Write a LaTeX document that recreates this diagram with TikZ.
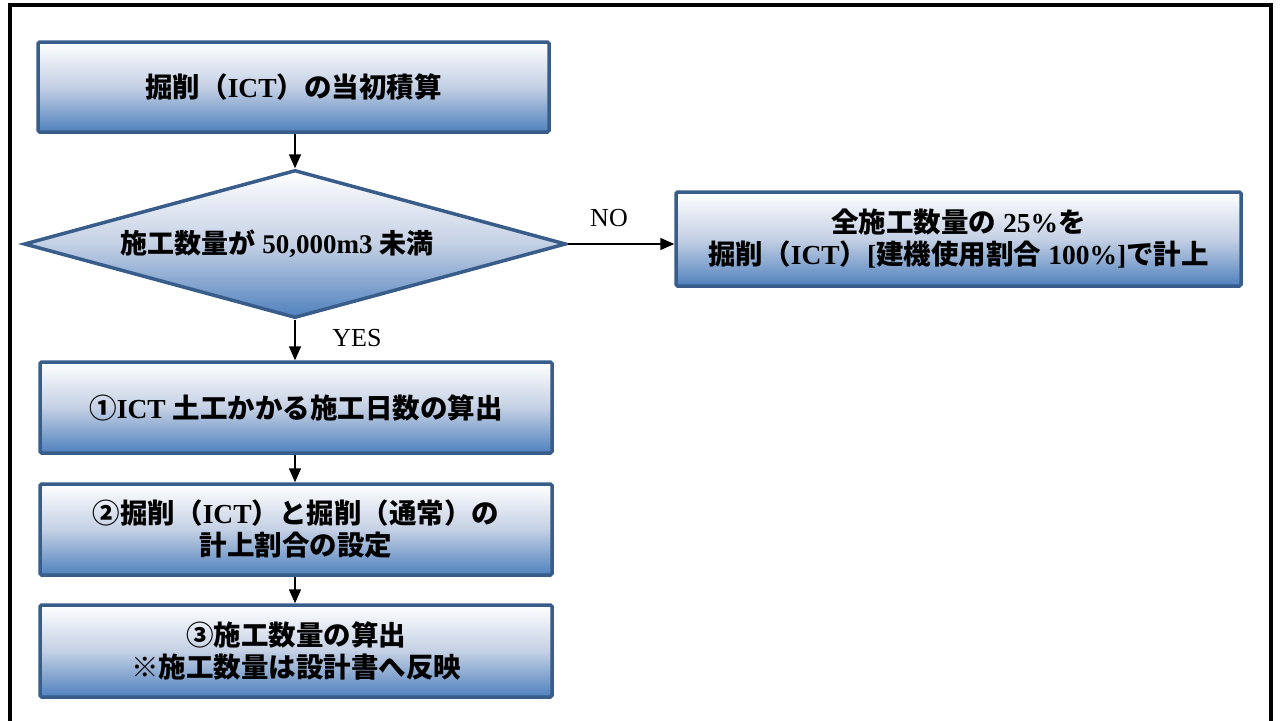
\documentclass[tikz,border=0pt]{standalone}
\usepackage{fontspec}
\setmainfont{Liberation Serif}
\newfontfamily\cjk{Noto Sans CJK JP}
\usetikzlibrary{shapes.geometric,arrows.meta}
\newcommand\J[1]{{\cjk\bfseries #1}}
\definecolor{bord}{RGB}{56,93,138}
\definecolor{bfill}{RGB}{79,129,189}
\definecolor{mfill}{RGB}{196,208,228}
\tikzset{
  fbox/.style={rectangle, draw=bord, line width=3.5pt, rounded corners=1.5pt,
    top color=white, bottom color=bfill, middle color=mfill, align=center,
    font=\bfseries\fontsize{27.5}{32}\selectfont, inner sep=0pt},
  dia/.style={diamond, draw=bord, line width=3.5pt, top color=white, bottom color=bfill,
    middle color=mfill, inner sep=0pt},
  txt/.style={align=center, font=\bfseries\fontsize{27}{32}\selectfont},
  lbl/.style={font=\fontsize{26}{30}\selectfont},
  arr/.style={line width=1.5pt, -{Triangle[length=14pt,width=12pt]}}
}
\begin{document}
\begin{tikzpicture}[x=1pt,y=-1pt]
\useasboundingbox (0,0) rectangle (1281,720);
\draw[line width=4pt] (10,740) -- (10,5) -- (1271,5) -- (1271,740);
\node[fbox, minimum width=511, minimum height=90] (b1) at (293.5,87) {\J{掘削（}ICT\J{）の当初積算}};
\node[dia, minimum width=542, minimum height=148] (d) at (295,244) {};
\node[txt] (dt) at (277,244) {\J{施工数量が} 50,000m3 \J{未満}};
\node[fbox, minimum width=565, minimum height=94] (no) at (958.5,239) {\J{全施工数量の} 25\%\J{を}\\\J{掘削（}ICT\J{）}[\J{建機使用割合} 100\%]\J{で計上}};
\node[fbox, minimum width=512, minimum height=91] (s1) at (296,407.5) {\J{①}ICT \J{土工かかる施工日数の算出}};
\node[fbox, minimum width=512, minimum height=91] (s2) at (296,529.5) {\J{②掘削（}ICT\J{）と掘削（通常）の}\\\J{計上割合の設定}};
\node[fbox, minimum width=512, minimum height=92] (s3) at (296,651) {\J{③施工数量の算出}\\\J{※施工数量は設計書へ反映}};
\draw[arr] (b1.south -| d.north) -- (d.north);
\draw[arr] (d.south) -- (d.south |- s1.north);
\draw[arr] (d.east) -- (d.east -| no.west);
\draw[arr] (s1.south -| d.south) -- (s2.north -| d.south);
\draw[arr] (s2.south -| d.south) -- (s3.north -| d.south);
\node[lbl] (yes) at (357,338) {YES};
\node[lbl] (nol) at (609,218) {NO};
\end{tikzpicture}
\end{document}
